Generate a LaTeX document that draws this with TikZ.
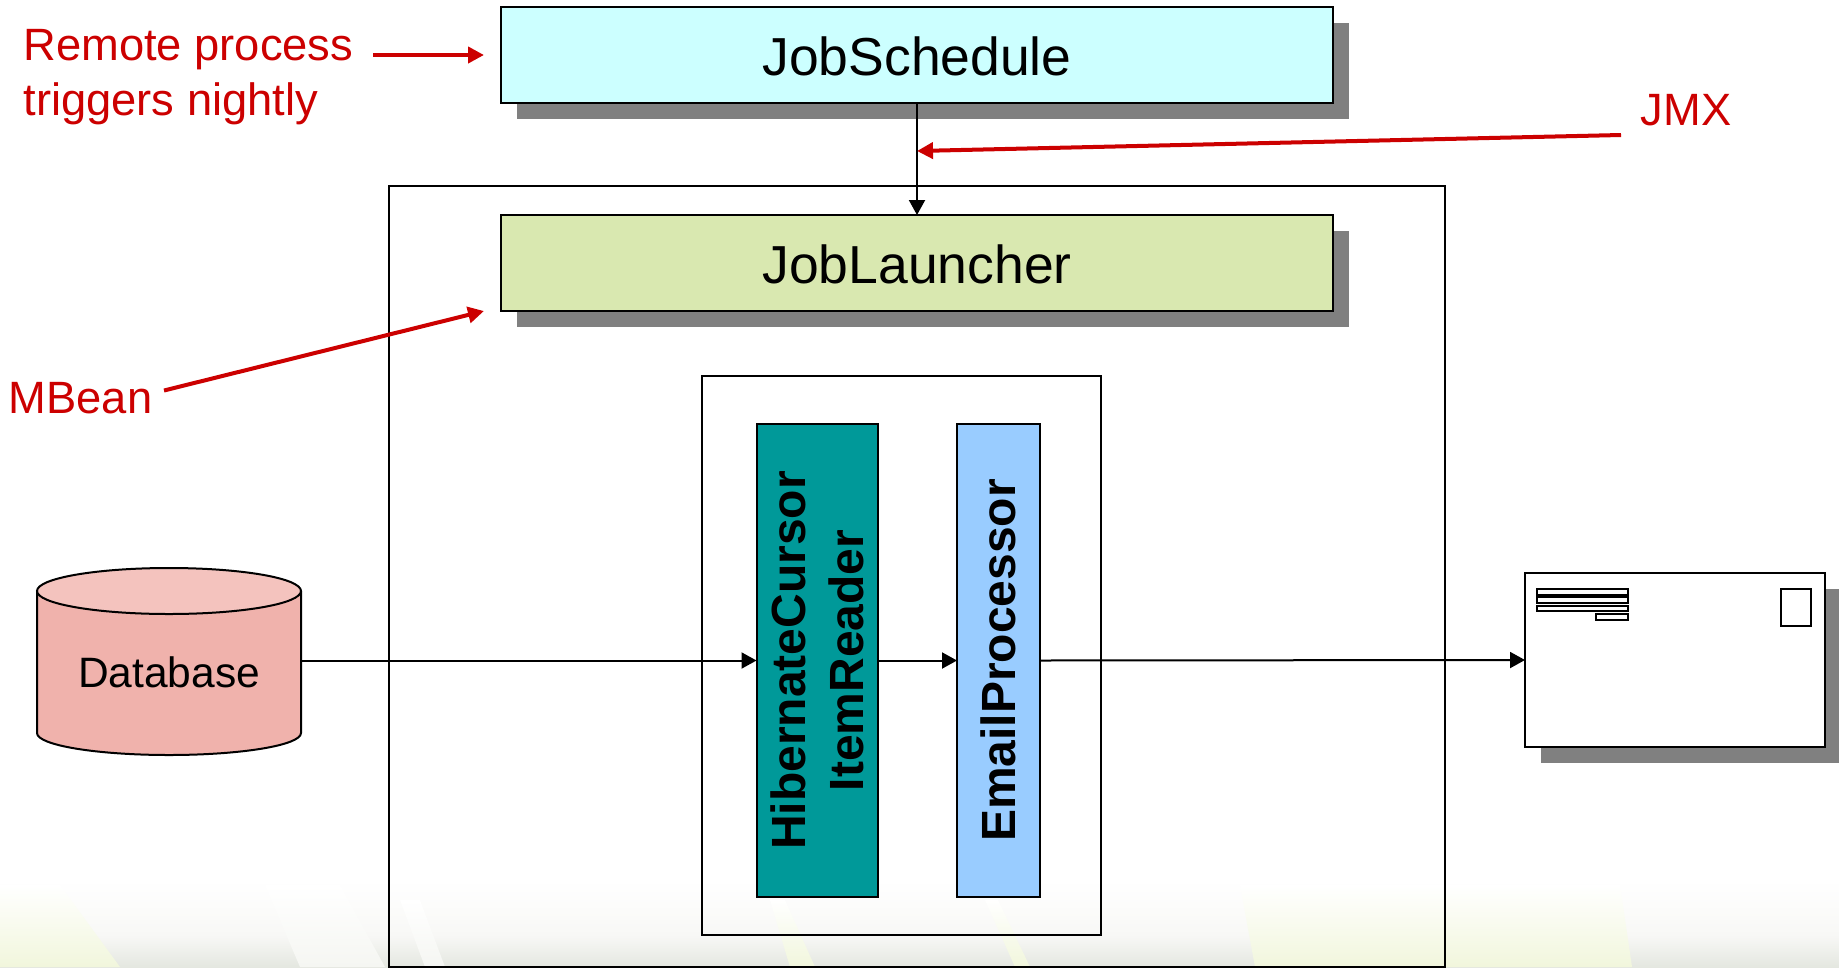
\documentclass[tikz,border=0pt]{standalone}
\usepackage{fontspec}
\setmainfont{Liberation Sans}
\usetikzlibrary{arrows.meta,shadings}
\definecolor{redc}{HTML}{CC0000}
\definecolor{shadowc}{HTML}{808080}
\definecolor{bgmid}{HTML}{F8F8F6}
\definecolor{bgend}{HTML}{E4E7E0}
\definecolor{bggreen}{HTML}{F1F6DC}
\definecolor{bglight}{HTML}{F5F6F2}
\newcommand{\lowerby}[2]{\raisebox{-#1}[\height][\depth]{#2}}
\tikzset{
  boxb/.style={draw=black,line width=2pt,inner sep=0pt,outer sep=0pt},
  flow/.style={draw=black,line width=2pt,-{Triangle[length=15pt,width=16pt]}},
  note/.style={draw=redc,line width=4pt,-{Triangle[length=16pt,width=16pt]}},
  redtext/.style={text=redc,font=\fontsize{45.3}{54.5}\selectfont,inner sep=0pt,outer sep=0pt},
  big/.style={font=\fontsize{53.5}{60}\selectfont},
  vert/.style={rotate=90,align=center,font=\fontsize{48}{58}\selectfont\bfseries},
  shadowb/.style={fill=shadowc,draw=none},
  streakg/.style={top color=white,bottom color=bggreen,draw=none},
  streakw/.style={top color=white,bottom color=bglight,draw=none},
}
\begin{document}
\begin{tikzpicture}[x=1pt,y=-1pt]
\useasboundingbox (0,0) rectangle (1839,967);
% slide background
\fill[white] (0,0) rectangle (1839,967);
\shade[top color=white,bottom color=bgmid] (0,880) rectangle (1839,935);
\shade[top color=bgmid,bottom color=bgend] (0,935) rectangle (1839,967);
\shade[streakg] (0,885) -- (60,885) -- (120,967) -- (0,967) -- cycle;
\shade[streakg] (1240,885) -- (1620,885) -- (1632,967) -- (1255,967) -- cycle;
\shade[streakg] (770,900) -- (785,900) -- (815,967) -- (790,967) -- cycle;
\shade[streakg] (985,900) -- (998,900) -- (1030,967) -- (1015,967) -- cycle;
\shade[streakw] (265,885) -- (340,885) -- (385,967) -- (300,967) -- cycle;
\shade[streakw] (400,900) -- (420,900) -- (445,967) -- (425,967) -- cycle;
% shadows
\fill[shadowb] (517,23) rectangle (1349,119);
\fill[shadowb] (517,231) rectangle (1349,327);
\fill[shadowb] (1541,589) rectangle (1839,763);
% containers
\node[boxb,minimum width=1056pt,minimum height=781pt] (outer) at (917,576.5) {};
\node[boxb,minimum width=399pt,minimum height=559pt] (inner) at (901,655.5) {};
% top boxes
\node[boxb,fill={rgb,255:red,204;green,255;blue,255},minimum width=831.5pt,minimum height=96pt,big] (sched) at (917,55) {\lowerby{1.5pt}{JobSchedule}};
\node[boxb,fill={rgb,255:red,217;green,232;blue,176},minimum width=831.5pt,minimum height=96pt,big] (launch) at (917,263) {\lowerby{1.5pt}{JobLauncher}};
% step boxes
\node[boxb,fill={rgb,255:red,0;green,153;blue,153},minimum width=473pt,minimum height=121pt,vert] (reader) at (817,660.5) {HibernateCursor\\ItemReader};
\node[boxb,fill={rgb,255:red,153;green,204;blue,255},minimum width=473pt,minimum height=83pt,vert] (proc) at (998.5,660.5) {EmailProcessor};
% database
\path[fill={rgb,255:red,240;green,178;blue,172}] (37,591) -- (37,733) arc[start angle=180,end angle=360,x radius=132,y radius=-22] -- (301,591) -- cycle;
\draw[line width=2pt] (37,591) -- (37,733) arc[start angle=180,end angle=360,x radius=132,y radius=-22] -- (301,591);
\draw[line width=2pt,fill={rgb,255:red,244;green,195;blue,190}] (169,591) ellipse[x radius=132,y radius=23];
\node[minimum width=264pt,minimum height=187pt,inner sep=0pt,outer sep=0pt] (db) at (169,660.5) {};
\node[font=\fontsize{42.5}{50}\selectfont,inner sep=0pt] (dbt) at (169,672.5) {Database};
% envelope
\node[boxb,fill=white,minimum width=300pt,minimum height=174pt] (env) at (1675,660) {};
\node[boxb,fill=white,minimum width=91pt,minimum height=5.5pt] (l1) at (1582.5,592) {};
\node[boxb,fill=white,minimum width=91pt,minimum height=5.5pt] (l2) at (1582.5,600) {};
\node[boxb,fill=white,minimum width=91pt,minimum height=5.5pt] (l3) at (1582.5,608.5) {};
\node[boxb,fill=white,minimum width=32pt,minimum height=5.5pt] (l4) at (1612,617) {};
\node[boxb,fill=white,minimum width=30pt,minimum height=37pt] (stamp) at (1796,607) {};
% connectors
\draw[flow] (sched.south) -- (launch.north);
\draw[flow] (db.east) -- (reader.north);
\draw[flow] (reader.south) -- (proc.north);
\draw[flow] (proc.south) -- (env.west);
% red notes
\node[redtext,anchor=west,align=left] (remote) at (23.5,77) {Remote process\\triggers nightly};
\node[redtext] (jmx) at (1686,110) {JMX};
\node[redtext] (mbean) at (80.5,398.5) {MBean};
\coordinate (ra) at (373,55);
\coordinate (rb) at (484,55);
\coordinate (ja) at (1621,135);
\coordinate (jb) at (917,151);
\coordinate (ma) at (164,390.5);
\coordinate (mb) at (484,311);
\draw[note] (ra) -- (rb);
\draw[note] (ja) -- (jb);
\draw[note] (ma) -- (mb);
\end{tikzpicture}
\end{document}
